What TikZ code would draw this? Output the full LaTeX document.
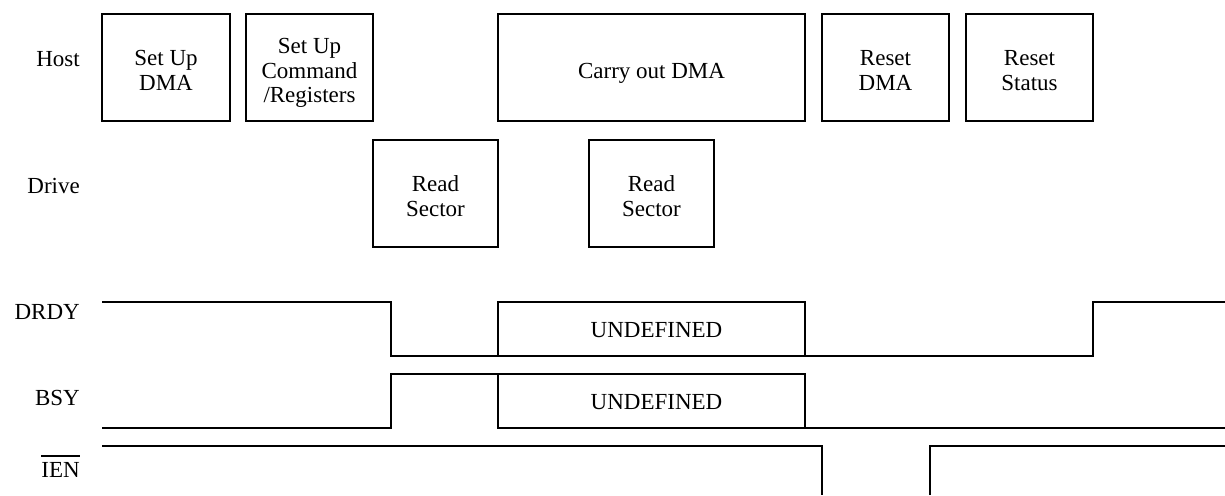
\documentclass[tikz,border=0pt]{standalone}
\usepackage{fontspec}
\setmainfont{Liberation Serif}
\newcommand\bfnt{\fontsize{23pt}{24.3pt}\selectfont}
\newcommand\topst{\rule{0pt}{26pt}}
\newcommand\botst{\rule[-5pt]{0pt}{5pt}}
\newcommand\ovlbar[1]{\leavevmode\vbox{\hrule height 2pt\kern 5pt\hbox{#1}}}
\begin{document}
\begin{tikzpicture}[x=1pt,y=-1pt,
  proc/.style={draw, line width=2pt, minimum height=107pt, inner sep=0pt, align=center, font=\bfnt},
  lbl/.style={anchor=base east, inner sep=0pt, font=\bfnt},
  sig/.style={line width=2pt},
  undef/.style={anchor=base, inner sep=0pt, font=\bfnt}]
\useasboundingbox (0,0) rectangle (1225,495);

% row labels
\node[lbl] (host) at (80,66.7) {Host};
\node[lbl] (drive) at (80,193) {Drive};
\node[lbl] (drdy) at (80,319) {DRDY};
\node[lbl] (bsy) at (80,405) {BSY};
\node[lbl] (ien) at (80,477) {\ovlbar{IEN}};

% host activities
\node[proc, minimum width=128pt] (setupdma) at (166,67.5) {\topst Set Up\\DMA\botst};
\node[proc, minimum width=127pt] (setupcmd) at (309.5,67.5) {\topst Set Up\\Command\\/Registers\botst};
\node[proc, minimum width=307pt] (carry) at (651.5,67.5) {\topst Carry out DMA\botst};
\node[proc, minimum width=127pt] (resetdma) at (885.5,67.5) {\topst Reset\\DMA\botst};
\node[proc, minimum width=127pt] (resetstat) at (1029.5,67.5) {\topst Reset\\Status\botst};

% drive activities
\node[proc, minimum width=125pt] (read1) at (435.5,193.5) {\topst Read\\Sector\botst};
\node[proc, minimum width=125pt] (read2) at (651.5,193.5) {\topst Read\\Sector\botst};

% DRDY
\draw[sig] (102,302) -- (390.5,302) -- (390.5,355.5) -- (1093,355.5) -- (1093,302) -- (1225,302);
\draw[sig] (498,355.5) -- (498,302) -- (805,302) -- (805,355.5);
\node[undef] (undef1) at (656.5,337) {UNDEFINED};

% BSY
\draw[sig] (102,427.5) -- (390.5,427.5) -- (390.5,374) -- (805,374) -- (805,427.5) -- (1225,427.5);
\draw[sig] (498,374) -- (498,427.5) -- (805,427.5);
\node[undef] (undef2) at (656.5,409) {UNDEFINED};

% IEN
\draw[sig] (102,445.7) -- (822,445.7) -- (822,495);
\draw[sig] (930,495) -- (930,445.7) -- (1225,445.7);
\end{tikzpicture}
\end{document}
